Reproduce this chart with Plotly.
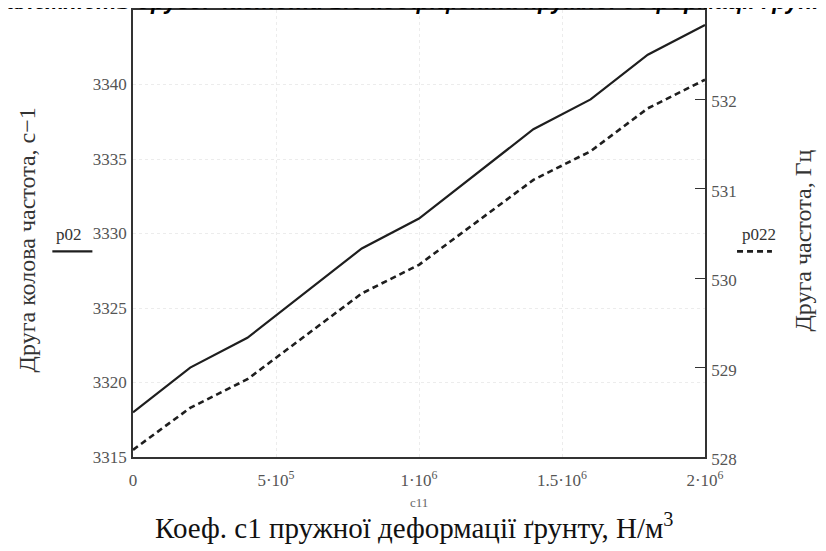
import plotly.graph_objects as go

# Data
c11 = [0, 2e5, 4e5, 6e5, 8e5, 1e6, 1.2e6, 1.4e6, 1.6e6, 1.8e6, 2e6]
p02 = [3318, 3321, 3323, 3326, 3329, 3331, 3334, 3337, 3339, 3342, 3344]
p022 = [528.08, 528.55, 528.87, 529.35, 529.83, 530.15, 530.62, 531.10, 531.42, 531.90, 532.22]

x_tickvals = [0, 5e5, 1e6, 1.5e6, 2e6]
x_ticktext = ["0", "5·10<sup>5</sup>", "1·10<sup>6</sup>", "1.5·10<sup>6</sup>", "2·10<sup>6</sup>"]
y1_ticks = [3315, 3320, 3325, 3330, 3335, 3340]
y2_ticks = [528, 529, 530, 531, 532, 533]

SERIF = "Liberation Serif, Times New Roman, serif"
TICKC = "#555555"
TICKSZ = 17

fig = go.Figure()
fig.add_trace(go.Scatter(x=c11, y=p02, mode="lines", name="p02",
                         line=dict(color="#1e1e1e", width=2.2), yaxis="y"))
fig.add_trace(go.Scatter(x=c11, y=p022, mode="lines", name="p022",
                         line=dict(color="#1e1e1e", width=2.6, dash="6px,4px"), yaxis="y2"))

# the page body adds an 8px offset; margins compensate for it
fig.update_layout(
    width=826, height=551,
    margin=dict(l=125, r=129, t=2, b=102, autoexpand=False),
    paper_bgcolor="white", plot_bgcolor="white",
    showlegend=False,
    font=dict(family=SERIF, color="#333"),
    xaxis=dict(range=[0, 2e6], tickvals=x_tickvals, ticktext=x_ticktext, automargin=False,
               showgrid=True, gridcolor="#ececec", gridwidth=1, griddash="dot",
               showline=True, linecolor="#333", linewidth=1.5, mirror=True,
               ticks="", zeroline=False, ticklabelstandoff=7,
               tickfont=dict(family=SERIF, size=TICKSZ, color=TICKC)),
    yaxis=dict(range=[3315, 3345], tickvals=y1_ticks, automargin=False,
               showgrid=True, gridcolor="#ececec", gridwidth=1, griddash="dot",
               showline=True, linecolor="#333", linewidth=1.5,
               ticks="", zeroline=False, ticklabelstandoff=1,
               tickfont=dict(family=SERIF, size=TICKSZ, color=TICKC)),
    yaxis2=dict(range=[528, 533], tickvals=y2_ticks, overlaying="y", side="right",
                automargin=False,
                showgrid=False, showline=True, linecolor="#333", linewidth=1.5,
                ticks="inside", ticklen=10, tickcolor="#333", zeroline=False,
                ticklabelstandoff=1, ticklabelshift=2,
                tickfont=dict(family=SERIF, size=TICKSZ, color=TICKC)),
)

annotations = [
    dict(text="<b><i>Залежність другої частоти від коефіцієнта пружної деформації ґрунту</i></b>",
         xref="paper", yref="paper", x=0.5, y=1.053, xanchor="center", yanchor="top",
         showarrow=False, font=dict(family="Liberation Sans, Arial", size=23, color="black")),
    dict(text="Друга колова частота, с−1", xref="paper", yref="paper",
         x=-0.185, y=0.485, xanchor="center", yanchor="middle", textangle=-90,
         showarrow=False, font=dict(family=SERIF, size=24, color="#333")),
    dict(text="Друга частота, Гц", xref="paper", yref="paper",
         x=1.172, y=0.485, xanchor="center", yanchor="middle", textangle=-90,
         showarrow=False, font=dict(family=SERIF, size=24, color="#333")),
    dict(text="p02", xref="paper", yref="paper", x=-0.112, y=0.472,
         xanchor="center", yanchor="bottom", showarrow=False,
         font=dict(family=SERIF, size=17, color="#333")),
    dict(text="p022", xref="paper", yref="paper", x=1.095, y=0.472,
         xanchor="center", yanchor="bottom", showarrow=False,
         font=dict(family=SERIF, size=17, color="#333")),
    dict(text="c11", xref="paper", yref="paper", x=0.5, y=-0.080,
         xanchor="center", yanchor="top", showarrow=False,
         font=dict(family=SERIF, size=13, color="#666")),
    dict(text="Коеф. c1 пружної деформації ґрунту, Н/м<sup>3</sup>", xref="paper", yref="paper",
         x=0.491, y=-0.110, xanchor="center", yanchor="top", showarrow=False,
         font=dict(family=SERIF, size=29, color="#111")),
]
fig.update_layout(annotations=annotations)

fig.update_layout(shapes=[
    dict(type="line", xref="paper", yref="paper", x0=-0.141, x1=-0.071, y0=0.460, y1=0.460,
         line=dict(color="#1e1e1e", width=2.4)),
    dict(type="line", xref="paper", yref="paper", x0=1.056, x1=1.117, y0=0.460, y1=0.460,
         line=dict(color="#1e1e1e", width=2.6, dash="6px,4px")),
])

fig.write_html("out.html")
